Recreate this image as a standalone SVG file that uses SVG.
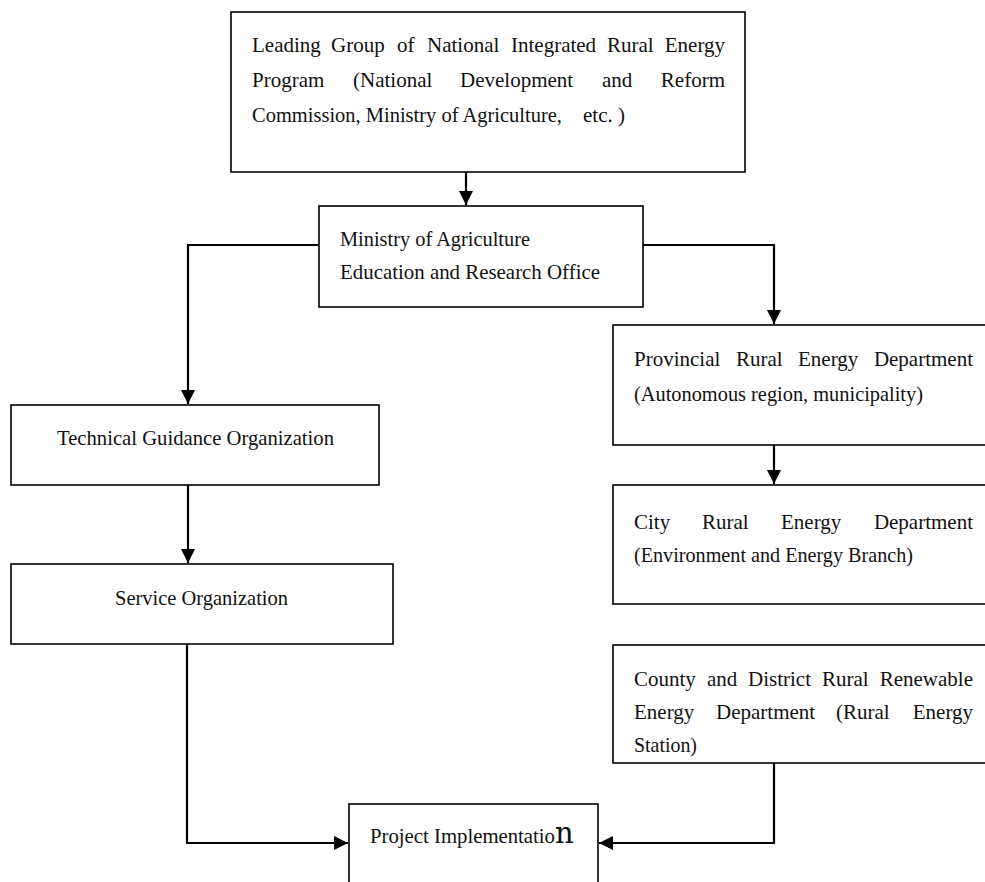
<svg xmlns="http://www.w3.org/2000/svg" width="985" height="882" viewBox="0 0 985 882">
<style>
.box{fill:#fff;stroke:#000;stroke-width:1.6}
.t{font-family:"Liberation Serif","Times New Roman",serif;font-size:21px;fill:#111}
.e{text-anchor:end}
.c{fill:none;stroke:#000;stroke-width:2.2}
</style>
<defs>
<marker id="ah" markerUnits="userSpaceOnUse" markerWidth="15" markerHeight="15" refX="14" refY="7" orient="auto">
<path d="M0,0 L14,7 L0,14 z" fill="#000"/>
</marker>
</defs>
<rect width="985" height="882" fill="#fff"/>
<g id="connectors">
<path class="c" d="M466,172 V205" marker-end="url(#ah)"/>
<path class="c" d="M319,245 H188 V404" marker-end="url(#ah)"/>
<path class="c" d="M643,245 H774 V324" marker-end="url(#ah)"/>
<path class="c" d="M774,445 V484" marker-end="url(#ah)"/>
<path class="c" d="M188,485 V563" marker-end="url(#ah)"/>
<path class="c" d="M187,644 V843 H348" marker-end="url(#ah)"/>
<path class="c" d="M774,763 V843 H599" marker-end="url(#ah)"/>
</g>
<g id="leading-group">
<rect class="box" x="231" y="12" width="514" height="160"/>
<text class="t" y="52"><tspan x="252">Leading</tspan><tspan x="331">Group</tspan><tspan x="397">of</tspan><tspan x="427">National</tspan><tspan x="511">Integrated</tspan><tspan x="607">Rural</tspan><tspan class="e" x="725">Energy</tspan></text>
<text class="t" y="87"><tspan x="252">Program</tspan><tspan x="353">(National</tspan><tspan x="460">Development</tspan><tspan x="602">and</tspan><tspan class="e" x="725">Reform</tspan></text>
<text class="t" y="122"><tspan x="252" textLength="310" lengthAdjust="spacingAndGlyphs">Commission, Ministry of Agriculture,</tspan><tspan x="583">etc. )</tspan></text>
</g>
<g id="ministry">
<rect class="box" x="319" y="206" width="324" height="101"/>
<text class="t" x="340" y="246" textLength="190" lengthAdjust="spacingAndGlyphs">Ministry of Agriculture</text>
<text class="t" x="340" y="279" textLength="260" lengthAdjust="spacingAndGlyphs">Education and Research Office</text>
</g>
<g id="technical">
<rect class="box" x="11" y="405" width="368" height="80"/>
<text class="t" x="57" y="445" textLength="277" lengthAdjust="spacingAndGlyphs">Technical Guidance Organization</text>
</g>
<g id="service">
<rect class="box" x="11" y="564" width="382" height="80"/>
<text class="t" x="115" y="605" textLength="173" lengthAdjust="spacingAndGlyphs">Service Organization</text>
</g>
<g id="provincial">
<rect class="box" x="613" y="325" width="400" height="120"/>
<text class="t" y="366"><tspan x="634">Provincial</tspan><tspan x="736">Rural</tspan><tspan x="798">Energy</tspan><tspan class="e" x="973">Department</tspan></text>
<text class="t" x="634" y="401" textLength="289" lengthAdjust="spacingAndGlyphs">(Autonomous region, municipality)</text>
</g>
<g id="city">
<rect class="box" x="613" y="485" width="400" height="119"/>
<text class="t" y="529"><tspan x="634">City</tspan><tspan x="702">Rural</tspan><tspan x="781">Energy</tspan><tspan class="e" x="973">Department</tspan></text>
<text class="t" x="634" y="562" textLength="279" lengthAdjust="spacingAndGlyphs">(Environment and Energy Branch)</text>
</g>
<g id="county">
<rect class="box" x="613" y="645" width="400" height="118"/>
<text class="t" y="686"><tspan x="634">County</tspan><tspan x="707">and</tspan><tspan x="748">District</tspan><tspan x="822">Rural</tspan><tspan class="e" x="973">Renewable</tspan></text>
<text class="t" y="719"><tspan x="634">Energy</tspan><tspan x="716">Department</tspan><tspan x="836">(Rural</tspan><tspan class="e" x="973">Energy</tspan></text>
<text class="t" x="634" y="752" textLength="63" lengthAdjust="spacingAndGlyphs">Station)</text>
</g>
<g id="project">
<rect class="box" x="349" y="804" width="249" height="100"/>
<text class="t" x="370" y="843"><tspan textLength="185" lengthAdjust="spacingAndGlyphs">Project Implementatio</tspan><tspan style="font-size:29px;font-family:'DejaVu Serif',serif">n</tspan></text>
</g>
</svg>
